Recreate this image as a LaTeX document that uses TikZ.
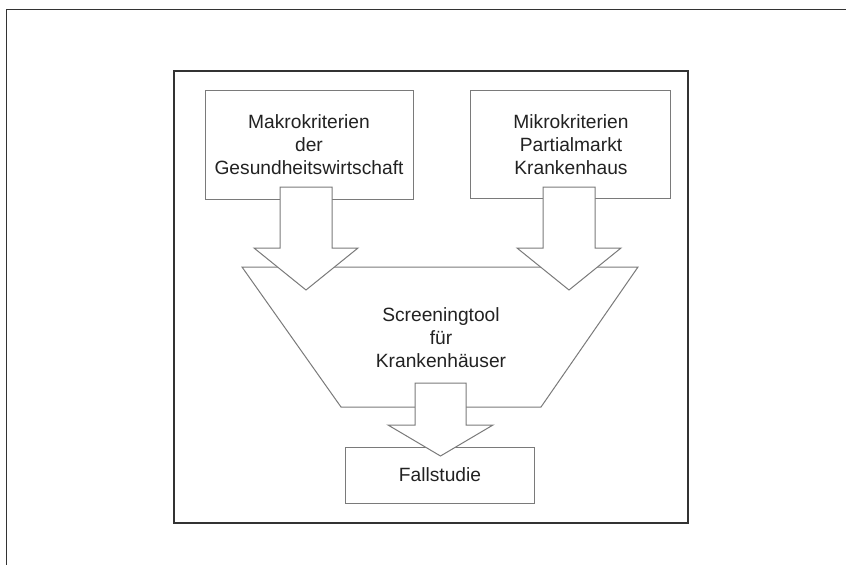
\documentclass[tikz,border=0pt]{standalone}
\usepackage{fontspec}
\setmainfont{Liberation Sans}
\definecolor{framec}{HTML}{333333}
\definecolor{linec}{HTML}{7A7A7A}
\definecolor{textc}{HTML}{222222}
\tikzset{
  box/.style={draw=linec, line width=1pt, fill=white, inner sep=0pt},
  lbl/.style={align=center, text=textc, font=\fontsize{19.2}{23}\selectfont, inner sep=0pt},
  blockarr/.style={draw=linec, line width=1pt, fill=white, line join=miter},
}
% #1 centre x, #2 top y, #3 head y, #4 tip y, #5 shaft half width, #6 head half width
\newcommand\blkarrow[6]{%
  \draw[blockarr] (#1-#5,#2) -- (#1+#5,#2) -- (#1+#5,#3) -- (#1+#6,#3) -- (#1,#4)
    -- (#1-#6,#3) -- (#1-#5,#3) -- cycle;}
\begin{document}
\begin{tikzpicture}[x=1pt,y=-1pt]
\useasboundingbox (0,0) rectangle (846,565);
\fill[white] (0,0) rectangle (846,565);
% outer page frame (top and left edges only)
\coordinate (otl) at (6.5,9.5);
\coordinate (otr) at (846,9.5);
\coordinate (obl) at (6.5,565);
\draw[framec, line width=1.2pt] (otr) -- (otl) -- (obl);
% inner frame
\draw[framec, line width=2pt] (174,71) rectangle (688,523);
% boxes
\node[box, minimum width=208pt, minimum height=109pt] (makro) at (309,144.5) {};
\node[lbl] (makrot) at (makro.center) {Makrokriterien\\der\\Gesundheitswirtschaft};
\node[box, minimum width=200pt, minimum height=108pt] (mikro) at (570,144) {};
\node[lbl] (mikrot) at (571,144.5) {Mikrokriterien\\Partialmarkt\\Krankenhaus};
% trapezoid
\coordinate (tl) at (242,267);
\coordinate (tr) at (638,267);
\coordinate (br) at (541,407);
\coordinate (bl) at (341,407);
\draw[box] (tl) -- (tr) -- (br) -- (bl) -- cycle;
\node[lbl] (screen) at (441,337.5) {Screeningtool\\für\\Krankenhäuser};
% Fallstudie
\node[box, minimum width=189pt, minimum height=56pt] (fall) at (440,475) {};
\node[lbl] (fallt) at (fall.center) {Fallstudie};
% block arrows
\blkarrow{306}{187}{248}{290}{26}{52}
\blkarrow{569}{187}{248}{290}{26}{52}
\blkarrow{440.5}{383}{425}{456}{25.5}{52.5}
\end{tikzpicture}
\end{document}
